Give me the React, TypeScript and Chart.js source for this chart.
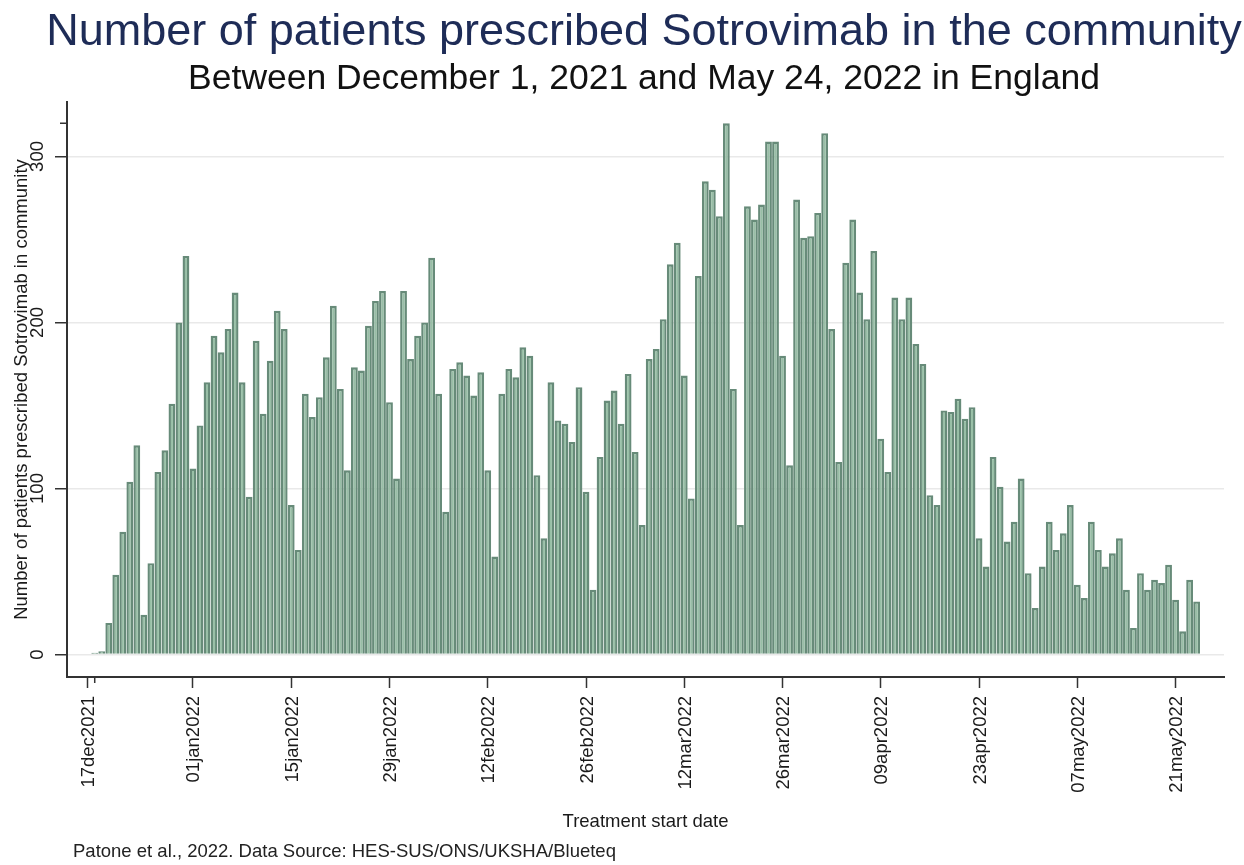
import React, { useEffect, useRef } from "react";
import { Chart, registerables } from "chart.js";

Chart.register(...registerables);

const titleText = "Number of patients prescribed Sotrovimab in the community";
const subtitleText = "Between December 1, 2021 and May 24, 2022 in England";
const xAxisTitle = "Treatment start date";
const yAxisTitle = "Number of patients prescribed Sotrovimab in community";
const footnoteText = "Patone et al., 2022. Data Source: HES-SUS/ONS/UKSHA/Blueteq";

// days counted from 17 Dec 2021
const tickDays = [0, 15, 29, 43, 57, 71, 85, 99, 113, 127, 141, 155];
const tickLabels = [
  "17dec2021", "01jan2022", "15jan2022", "29jan2022", "12feb2022", "26feb2022",
  "12mar2022", "26mar2022", "09apr2022", "23apr2022", "07may2022", "21may2022",
];
const yTicks = [0, 100, 200, 300];
const firstBarDay = 1; // 18 Dec 2021

const patients = [
  1, 2, 19, 48, 74, 104, 126, 24, 55, 110,
  123, 151, 200, 240, 112, 138, 164, 192, 182, 196,
  218, 164, 95, 189, 145, 177, 207, 196, 90, 63,
  157, 143, 155, 179, 210, 160, 111, 173, 171, 198,
  213, 219, 152, 106, 219, 178, 192, 200, 239, 157,
  86, 172, 176, 168, 156, 170, 111, 59, 157, 172,
  167, 185, 180, 108, 70, 164, 141, 139, 128, 161,
  98, 39, 119, 153, 159, 139, 169, 122, 78, 178,
  184, 202, 235, 248, 168, 94, 228, 285, 280, 264,
  320, 160, 78, 270, 262, 271, 309, 309, 180, 114,
  274, 251, 252, 266, 314, 196, 116, 236, 262, 218,
  202, 243, 130, 110, 215, 202, 215, 187, 175, 96,
  90, 147, 146, 154, 142, 149, 70, 53, 119, 101,
  68, 80, 106, 49, 28, 53, 80, 63, 73, 90,
  42, 34, 80, 63, 53, 61, 70, 39, 16, 49,
  39, 45, 43, 54, 33, 14, 45, 32,
];

const FONT = '"Liberation Sans", Arial, Helvetica, sans-serif';

const overlayPlugin = {
  id: "overlay",
  afterDraw(chart: any) {
    const { ctx, scales, chartArea } = chart;
    const x = scales.x;
    const y = scales.y;
    ctx.save();
    ctx.fillStyle = "#1a1a1a";
    ctx.strokeStyle = "#333";
    ctx.font = `18.5px ${FONT}`;

    // x tick labels (rotated)
    tickDays.forEach((d, i) => {
      const px = x.getPixelForValue(d);
      ctx.save();
      ctx.translate(px + 6.5, chartArea.bottom + 19);
      ctx.rotate(-Math.PI / 2);
      ctx.textAlign = "right";
      ctx.textBaseline = "alphabetic";
      ctx.fillText(tickLabels[i], 0, 0);
      ctx.restore();
    });

    // y tick labels (rotated)
    yTicks.forEach((v) => {
      const py = y.getPixelForValue(v);
      ctx.save();
      ctx.translate(43, py);
      ctx.rotate(-Math.PI / 2);
      ctx.textAlign = "center";
      ctx.textBaseline = "alphabetic";
      ctx.fillText(String(v), 0, 0);
      ctx.restore();
    });

    // minor ticks at data range ends
    ctx.lineWidth = 1.5;
    const maxV = Math.max(...patients);
    const pyMax = y.getPixelForValue(maxV);
    ctx.beginPath();
    ctx.moveTo(chartArea.left - 7, pyMax);
    ctx.lineTo(chartArea.left, pyMax);
    const pxMin = x.getPixelForValue(firstBarDay);
    ctx.moveTo(pxMin, chartArea.bottom);
    ctx.lineTo(pxMin, chartArea.bottom + 6);
    ctx.stroke();

    // axis titles
    ctx.textAlign = "center";
    ctx.textBaseline = "alphabetic";
    ctx.fillText(xAxisTitle, (chartArea.left + chartArea.right) / 2, 827);
    ctx.save();
    ctx.translate(27, (chartArea.top + chartArea.bottom) / 2);
    ctx.rotate(-Math.PI / 2);
    ctx.fillText(yAxisTitle, 0, 0);
    ctx.restore();

    ctx.restore();
  },
};

export default function App() {
  const ref = useRef<HTMLCanvasElement | null>(null);

  useEffect(() => {
    if (!ref.current) return;
    const data = patients.map((v, i) => ({ x: firstBarDay + i, y: v }));
    const chart = new Chart(ref.current, {
      type: "bar",
      data: {
        datasets: [
          {
            data: data as any,
            backgroundColor: "#98bfa6",
            borderColor: "#678b79",
            borderWidth: 2.4,
            borderSkipped: "start",
            barPercentage: 0.97,
            categoryPercentage: 1,
          } as any,
        ],
      },
      options: {
        animation: false,
        responsive: false,
        maintainAspectRatio: false,
        layout: { padding: { top: 102, right: 20, left: 0, bottom: 0 } },
        plugins: {
          legend: { display: false },
          tooltip: { enabled: false },
          title: { display: false },
        },
        scales: {
          x: {
            type: "linear",
            min: -2.95,
            max: 161.9,
            offset: false,
            afterFit: (s: any) => {
              s.height = 865 - 677;
            },
            afterBuildTicks: (s: any) => {
              s.ticks = tickDays.map((v) => ({ value: v }));
            },
            ticks: { display: false },
            grid: {
              offset: false,
              drawOnChartArea: false,
              drawTicks: true,
              tickLength: 11,
              tickColor: "#333",
              tickWidth: 1.5,
            },
            border: { color: "#333", width: 2 },
          },
          y: {
            type: "linear",
            min: -13.55,
            max: 332.8,
            afterFit: (s: any) => {
              s.width = 67;
            },
            afterBuildTicks: (s: any) => {
              s.ticks = yTicks.map((v) => ({ value: v }));
            },
            ticks: { display: false },
            grid: {
              color: "#e9e9e9",
              lineWidth: 1.5,
              drawTicks: true,
              tickLength: 12,
              tickColor: "#333",
              tickWidth: 1.5,
            },
            border: { color: "#333", width: 2 },
          },
        },
      } as any,
      plugins: [overlayPlugin],
    });
    return () => chart.destroy();
  }, []);

  return (
    <div
      style={{
        position: "fixed",
        left: 0,
        top: 0,
        width: 1244,
        height: 865,
        background: "#ffffff",
        overflow: "hidden",
        fontFamily: FONT,
      }}
    >
      <canvas
        ref={ref}
        width={1244}
        height={865}
        style={{ position: "absolute", left: 0, top: 0, width: 1244, height: 865 }}
      />
      <div
        style={{
          position: "absolute",
          left: -56,
          width: 1400,
          top: 7,
          fontSize: 45,
          lineHeight: "45px",
          textAlign: "center",
          color: "#1e2c57",
          whiteSpace: "nowrap",
        }}
      >
        {titleText}
      </div>
      <div
        style={{
          position: "absolute",
          left: -56,
          width: 1400,
          top: 60,
          fontSize: 35.5,
          lineHeight: "35.5px",
          textAlign: "center",
          color: "#111111",
          whiteSpace: "nowrap",
        }}
      >
        {subtitleText}
      </div>
      <div
        style={{
          position: "absolute",
          left: 73,
          top: 842,
          fontSize: 18.5,
          lineHeight: "18.5px",
          color: "#222222",
          whiteSpace: "nowrap",
        }}
      >
        {footnoteText}
      </div>
    </div>
  );
}
